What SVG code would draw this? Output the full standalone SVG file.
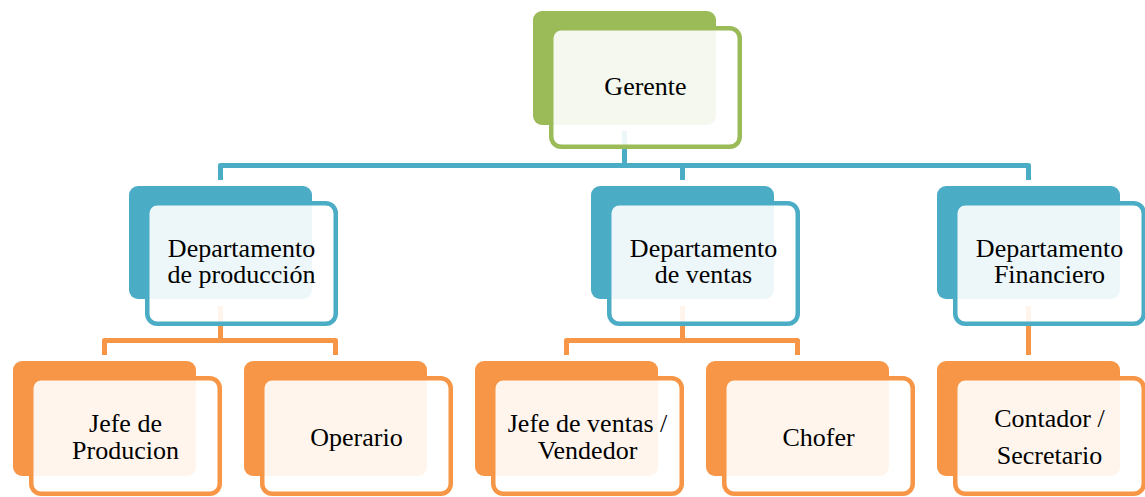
<svg xmlns="http://www.w3.org/2000/svg" width="1145" height="497" viewBox="0 0 1145 497">
<style>
.conn{fill:none;stroke-width:5;stroke-linejoin:round}
.cb{stroke:#4BACC6}
.co{stroke:#F79646}
.back{stroke:none}
.front{fill:#FFFFFF;fill-opacity:0.9;stroke-width:4.5}
.g .back{fill:#9BBB59}.g .front{stroke:#9BBB59}
.b .back{fill:#4BACC6}.b .front{stroke:#4BACC6}
.o .back{fill:#F79646}.o .front{stroke:#F79646}
text{font-family:"Liberation Serif","Times New Roman",serif;font-size:26px;fill:#000;text-anchor:middle}
</style>
<rect width="1145" height="497" fill="#FFFFFF"/>
<g id="connectors">
<path class="conn cb" d="M624.5 131 V165.5 M220.5 180 V165.5 H1028.5 V180 M682.5 165.5 V180"/>
<path class="conn co" d="M220.5 306 V340.5 M104.5 355 V340.5 H335.5 V355"/>
<path class="conn co" d="M682.5 306 V340.5 M566.5 355 V340.5 H797.5 V355"/>
<path class="conn co" d="M1028.5 306 V355"/>
</g>
<g id="gerente" class="g">
<rect class="back" x="533" y="11" width="183" height="114" rx="9"/>
<rect class="front" x="551.25" y="28.25" width="188.5" height="118.5" rx="10"/>
<text x="645.5" y="95">Gerente</text>
</g>
<g id="dep-produccion" class="b">
<rect class="back" x="129" y="186" width="183" height="113" rx="9"/>
<rect class="front" x="147.25" y="203.25" width="188.5" height="120.5" rx="10"/>
<text x="241.5" y="257">Departamento</text>
<text x="241.5" y="283">de producción</text>
</g>
<g id="dep-ventas" class="b">
<rect class="back" x="591" y="186" width="183" height="113" rx="9"/>
<rect class="front" x="609.25" y="203.25" width="188.5" height="120.5" rx="10"/>
<text x="703.5" y="257">Departamento</text>
<text x="703.5" y="283">de ventas</text>
</g>
<g id="dep-financiero" class="b">
<rect class="back" x="937" y="186" width="183" height="113" rx="9"/>
<rect class="front" x="955.25" y="203.25" width="188.5" height="120.5" rx="10"/>
<text x="1049.5" y="257">Departamento</text>
<text x="1049.5" y="283">Financiero</text>
</g>
<g id="jefe-produccion" class="o">
<rect class="back" x="13" y="361" width="183" height="115" rx="9"/>
<rect class="front" x="31.25" y="378.25" width="188.5" height="115.5" rx="10"/>
<text x="125.5" y="432">Jefe de</text>
<text x="125.5" y="459">Producion</text>
</g>
<g id="operario" class="o">
<rect class="back" x="244" y="361" width="183" height="115" rx="9"/>
<rect class="front" x="262.25" y="378.25" width="188.5" height="115.5" rx="10"/>
<text x="356.5" y="446">Operario</text>
</g>
<g id="jefe-ventas" class="o">
<rect class="back" x="475" y="361" width="183" height="115" rx="9"/>
<rect class="front" x="493.25" y="378.25" width="188.5" height="115.5" rx="10"/>
<text x="587.5" y="432">Jefe de ventas /</text>
<text x="587.5" y="459">Vendedor</text>
</g>
<g id="chofer" class="o">
<rect class="back" x="706" y="361" width="183" height="115" rx="9"/>
<rect class="front" x="724.25" y="378.25" width="188.5" height="115.5" rx="10"/>
<text x="818.5" y="446">Chofer</text>
</g>
<g id="contador" class="o">
<rect class="back" x="937" y="361" width="183" height="115" rx="9"/>
<rect class="front" x="955.25" y="378.25" width="188.5" height="115.5" rx="10"/>
<text x="1049.5" y="427">Contador /</text>
<text x="1049.5" y="464">Secretario</text>
</g>
</svg>
